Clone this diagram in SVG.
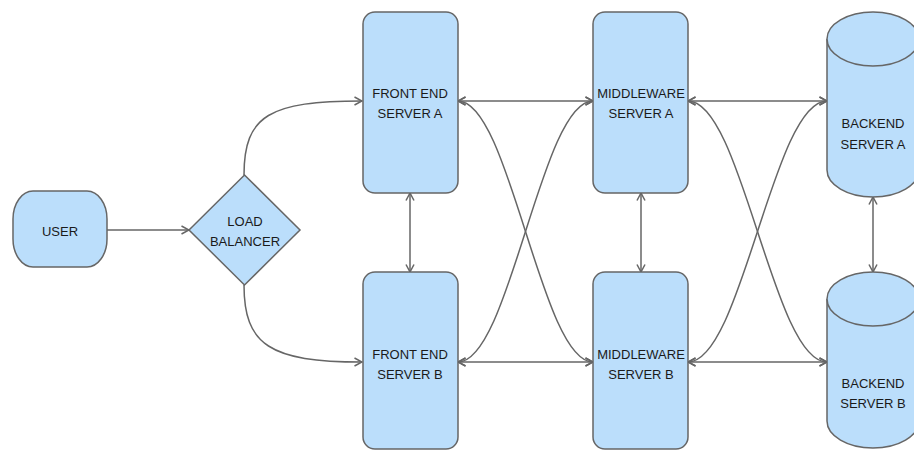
<svg xmlns="http://www.w3.org/2000/svg" width="914" height="450" viewBox="0 0 914 450">
  <style>
    .shape { fill: #bbdefb; stroke: #666666; stroke-width: 1.5; }
    .label { font-family: "Liberation Sans", Arial, sans-serif; font-size: 13px; fill: #1a1a1a; text-anchor: middle; }
    .edge { fill: none; stroke: #666666; stroke-width: 1.5; }
    .one { marker-end: url(#arrow); }
    .both { marker-start: url(#arrow); marker-end: url(#arrow); }
  </style>
  <defs>
    <marker id="arrow" viewBox="0 0 10 10" refX="9.5" refY="5" markerWidth="10" markerHeight="10" markerUnits="userSpaceOnUse" orient="auto-start-reverse">
      <path d="M2,1 L9.5,5 L2,9" fill="none" stroke="#666666" stroke-width="1.5"/>
    </marker>
  </defs>
  <rect width="914" height="450" fill="#ffffff"/>

  <g id="connectors">
    <path class="edge one" d="M107,230 L189,230"/>
    <path class="edge one" d="M244,175 C244,115 270,101 362,101"/>
    <path class="edge one" d="M244,285 C244,345 270,362 362,362"/>
    <path class="edge both" d="M458,101 L593,101"/>
    <path class="edge both" d="M458,362 L593,362"/>
    <path class="edge both" d="M458,101 C510,101 541,362 593,362"/>
    <path class="edge both" d="M458,362 C510,362 541,101 593,101"/>
    <path class="edge both" d="M410,193 L410,272"/>
    <path class="edge both" d="M641,193 L641,272"/>
    <path class="edge both" d="M688,101 L827,101"/>
    <path class="edge both" d="M688,362 L827,362"/>
    <path class="edge both" d="M688,101 C742,101 773,362 827,362"/>
    <path class="edge both" d="M688,362 C742,362 773,101 827,101"/>
    <path class="edge both" d="M873,197 L873,272"/>
  </g>

  <g id="user">
    <rect class="shape" x="13" y="191" width="94" height="76" rx="20" ry="28"/>
    <text class="label" x="60" y="235.5">USER</text>
  </g>

  <g id="load-balancer">
    <polygon class="shape" points="189,230 244.5,175 300,230 244.5,285"/>
    <text class="label" x="245" y="226">LOAD</text>
    <text class="label" x="245" y="246">BALANCER</text>
  </g>

  <g id="front-end-a">
    <rect class="shape" x="363" y="12" width="95" height="181" rx="12"/>
    <text class="label" x="410" y="98">FRONT END</text>
    <text class="label" x="410" y="118">SERVER A</text>
  </g>

  <g id="front-end-b">
    <rect class="shape" x="363" y="272" width="95" height="177" rx="12"/>
    <text class="label" x="410" y="359">FRONT END</text>
    <text class="label" x="410" y="379">SERVER B</text>
  </g>

  <g id="middleware-a">
    <rect class="shape" x="593" y="12" width="95" height="181" rx="12"/>
    <text class="label" x="641" y="98">MIDDLEWARE</text>
    <text class="label" x="641" y="118">SERVER A</text>
  </g>

  <g id="middleware-b">
    <rect class="shape" x="593" y="272" width="95" height="177" rx="12"/>
    <text class="label" x="641" y="359">MIDDLEWARE</text>
    <text class="label" x="641" y="379">SERVER B</text>
  </g>

  <g id="backend-a">
    <path class="shape" d="M827,39 A46,27 0 0 1 919,39 V170 A46,27 0 0 1 827,170 Z"/>
    <path class="shape" d="M827,39 A46,27 0 0 0 919,39"/>
    <text class="label" x="873" y="127.5">BACKEND</text>
    <text class="label" x="873" y="148.5">SERVER A</text>
  </g>

  <g id="backend-b">
    <path class="shape" d="M827,299 A46,27 0 0 1 919,299 V421 A46,27 0 0 1 827,421 Z"/>
    <path class="shape" d="M827,299 A46,27 0 0 0 919,299"/>
    <text class="label" x="873" y="387.5">BACKEND</text>
    <text class="label" x="873" y="407.5">SERVER B</text>
  </g>
</svg>
